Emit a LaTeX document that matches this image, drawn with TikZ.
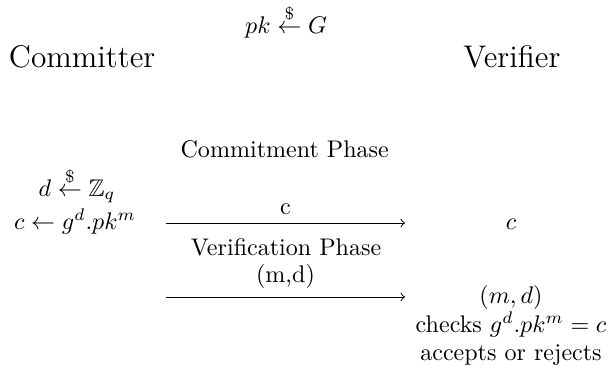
\documentclass[tikz,border=0pt]{standalone}
\usepackage{amsmath,amssymb}
\tikzset{party/.style={anchor=base, font=\fontsize{13}{16}\selectfont},
  msg/.style={->, thin}}
\begin{document}
\begin{tikzpicture}[>=to]
  \useasboundingbox (0,0) rectangle (8.927,5.464);
  \node[anchor=base] (setup) at (4.18,4.98) {$pk \stackrel{\$}{\leftarrow} G$};
  \node[party] (committer) at (1.20,4.485) {Committer};
  \node[party] (verifier) at (7.48,4.485) {Verifier};
  \node[anchor=base] (phase1) at (4.16,3.17) {Commitment Phase};
  \node[anchor=base] (pickd) at (1.125,2.60) {$d \stackrel{\$}{\leftarrow} \mathbb{Z}_q$};
  \node[anchor=base] (commit) at (1.096,2.11) {$c \leftarrow g^d.pk^m$};
  \node[anchor=base] (gotc) at (7.466,2.118) {$c$};
  \coordinate (s1) at (2.425,2.206);
  \coordinate (e1) at (5.917,2.206);
  \draw[msg] (s1) -- node[above] {c} (e1);
  \node[anchor=base] (phase2) at (4.18,1.724) {Verification Phase};
  \coordinate (s2) at (2.425,1.125);
  \coordinate (e2) at (5.917,1.125);
  \draw[msg] (s2) -- node[above] {(m,d)} (e2);
  \node[anchor=base] (gotmd) at (7.466,1.037) {$(m,d)$};
  \node[anchor=base] (check) at (7.466,0.613) {checks $g^d.pk^m = c$};
  \node[anchor=base] (result) at (7.466,0.19) {accepts or rejects};
\end{tikzpicture}
\end{document}
